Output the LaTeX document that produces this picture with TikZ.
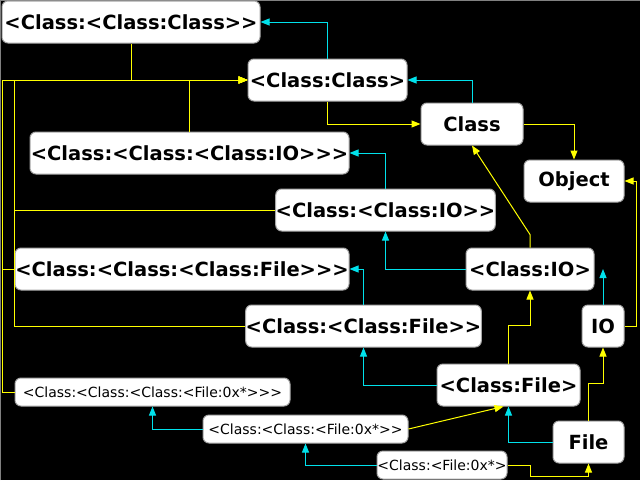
\documentclass[tikz,border=0pt]{standalone}
\usepackage{fontspec}
\setmainfont{DejaVu Sans}[Ligatures=TeXOff]
\usetikzlibrary{arrows.meta}
\definecolor{supcol}{RGB}{0,225,235}
\definecolor{metacol}{RGB}{255,255,0}

\begin{document}
\begin{tikzpicture}[x=1pt,y=-1pt,line width=1pt,
  box/.style={draw=gray!70,fill=white,rounded corners=6pt,inner sep=0pt,minimum height=42pt,font=\fontsize{19.5}{22}\selectfont\bfseries},
  tiny/.style={box,minimum height=28pt,font=\fontsize{14}{16}\selectfont},
  super/.style={supcol,-{Triangle[length=9pt,width=7pt]}},
  meta/.style={metacol,-{Triangle[length=9pt,width=7pt]}}]
 \useasboundingbox (0,0) rectangle (640,480);
 \fill[black] (0,0) rectangle (640,480);
 \draw[gray] (0.5,480) -- (0.5,0.5) -- (640,0.5);
 \node[box,minimum width=258pt] (ccc) at (131,22) {<Class:<Class:Class>>};
 \node[box,minimum width=159pt] (cc) at (327.5,80) {<Class:Class>};
 \node[box,minimum width=102pt] (cls) at (472,124) {Class};
 \node[box,minimum width=319pt] (cccio) at (189.5,153) {<Class:<Class:<Class:IO>>>};
 \node[box,minimum width=100pt] (obj) at (574,181) {Object};
 \node[box,minimum width=217pt] (ccio) at (385.5,210) {<Class:<Class:IO>>};
 \node[box,minimum width=128pt] (cio) at (530,269) {<Class:IO>};
 \node[box,minimum width=334pt] (cccfile) at (182,269) {<Class:<Class:<Class:File>>>};
 \node[box,minimum width=231pt] (ccfile) at (363.5,326) {<Class:<Class:File>>};
 \node[box,minimum width=42pt] (io) at (603,326) {IO};
 \node[box,minimum width=143pt] (cfile) at (508.5,385) {<Class:File>};
 \node[tiny,minimum width=275pt] (cccf0) at (152.5,392) {<Class:<Class:<Class:<File:0x*>>>};
 \node[tiny,minimum width=205pt] (ccf0) at (305.5,429) {<Class:<Class:<File:0x*>>};
 \node[box,minimum width=71pt] (file) at (588.5,442) {File};
 \node[tiny,minimum width=130pt] (cf0) at (442,465) {<Class:<File:0x*>};
 % superclass links
 \draw[super] (cc.north) |- (ccc.east);
 \draw[super] (cls.north) |- (cc.east);
 \draw[super] (ccio.north) |- (cccio.east);
 \draw[super] (cio.west) -| (ccio.south);
 \draw[super] (io.north) -- (io.north |- cio.east);
 \draw[super] (ccfile.north) |- (cccfile.east);
 \draw[super] (cfile.west) -| (ccfile.south);
 \draw[super] (file.west) -| (cfile.south);
 \draw[super] (ccf0.west) -| (cccf0.south);
 \draw[super] (cf0.west) -| (ccf0.south);
 % class-of links
 \draw[meta] (ccc.south) |- (cc.west);
 \draw[meta] (cccio.north) |- (cc.west);
 \draw[meta] (ccio.west) -| (cccfile.west |- cc.west) -- (cc.west);
 \draw[meta] (ccfile.west) -| (cccfile.west |- cc.west) -- (cc.west);
 \draw[meta] (cccfile.west) -- ++(-12,0) |- (cc.west);
 \draw[meta] (cccf0.west) -- ++(-12,0) |- (cc.west);
 \draw[meta] (cc.south) |- (cls.west);
 \draw[meta] (cls.east) -| (obj.north);
 \draw[meta] (cio.north) -- ++(0,-13) -- (cls.south);
 \draw[meta] (io.east) -- ++(12,0) |- (obj.east);
 \draw[meta] (cfile.north) -- ++(0,-38) -| (cio.south);
 \draw[meta] (file.north) -- ++(0,-37) -| (io.south);
 \draw[meta] (ccf0.east) -- ([xshift=-5pt]cfile.south);
 \draw[meta] (cf0.east) -- ++(23,0) -- ++(0,11) -| (file.south);
\end{tikzpicture}
\end{document}
